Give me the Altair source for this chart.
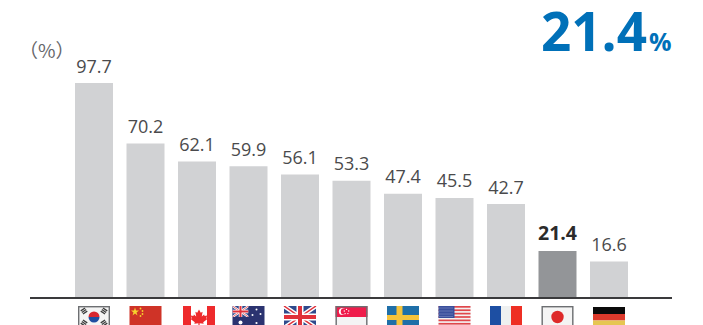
import base64
import altair as alt
import pandas as pd

countries = ["South Korea", "China", "Canada", "Australia", "United Kingdom", "Singapore",
             "Sweden", "United States", "France", "Japan", "Germany"]
values = [97.7, 70.2, 62.1, 59.9, 56.1, 53.3, 47.4, 45.5, 42.7, 21.4, 16.6]
highlighted = "Japan"
unit_label = "（%）"

FRAME = '<rect x="0.7" y="0.7" width="30.6" height="21" fill="none" stroke="#6d6f72" stroke-width="1.4"/>'


def trigram(cx, cy, angle):
    return (f'<g transform="rotate({angle} {cx} {cy}) translate({cx} {cy})" fill="#3a3a3a">'
            '<rect x="-2.6" y="-2.6" width="5.2" height="1.3"/>'
            '<rect x="-2.6" y="-0.65" width="5.2" height="1.3"/>'
            '<rect x="-2.6" y="1.3" width="5.2" height="1.3"/></g>')


# Small vector flags, 32 units wide; the window cuts them at 19 units high.
union_jack = ('<rect width="32" height="22" fill="#2f4a8c"/>'
              '<path d="M0 0L32 22M32 0L0 22" stroke="#fff" stroke-width="4.4"/>'
              '<path d="M0 0L32 22M32 0L0 22" stroke="#e0313a" stroke-width="1.5"/>'
              '<path d="M16 0V22M0 11H32" stroke="#fff" stroke-width="7"/>'
              '<path d="M16 0V22M0 11H32" stroke="#e0313a" stroke-width="4"/>')

us_stripes = "".join(
    f'<rect y="{i * 22 / 13:.2f}" width="32" height="{22 / 13:.2f}" fill="#e0474c"/>' for i in range(0, 13, 2)
)

flag_art = {
    "South Korea": '<rect width="32" height="22" fill="#f4f4f4"/>'
                   '<path d="M10.5 11a5.5 5.5 0 0 1 11 0z" fill="#d8262f"/>'
                   '<path d="M10.5 11a5.5 5.5 0 0 0 11 0z" fill="#1f4ea1"/>'
                   + trigram(6, 5, -34) + trigram(26, 5, 34) + trigram(6, 17, 34) + trigram(26, 17, -34) + FRAME,
    "China": '<rect width="32" height="22" fill="#cf3327"/>'
             '<path d="M5.5 1.5l1 3h3l-2.5 1.9 1 3-2.5-1.9-2.5 1.9 1-3-2.5-1.9h3z" fill="#f6d32d"/>'
             '<g fill="#f6d32d"><circle cx="11" cy="2.5" r="0.9"/><circle cx="13" cy="5" r="0.9"/>'
             '<circle cx="13" cy="8" r="0.9"/><circle cx="11" cy="10" r="0.9"/></g>',
    # The Canadian flag sits two units right of its bar.
    "Canada": '<g transform="translate(2 0)"><rect width="32" height="22" fill="#fff"/>'
              '<rect width="8" height="22" fill="#ee2a2c"/><rect x="24" width="8" height="22" fill="#ee2a2c"/>'
              '<path d="M16 3.5l1.8 3.2 1.8-.9-.8 4.6 2.3-2 .5 1.5 2.6-.4-.9 2.7 1.1.7-4.2 3.4.5 1.4-4.1-.5v3.2h-1.2v-3.2l-4.1.5.5-1.4-4.2-3.4 1.1-.7-.9-2.7 2.6.4.5-1.5 2.3 2-.8-4.6 1.8.9z" fill="#ee2a2c"/></g>',
    "Australia": '<rect width="32" height="22" fill="#2b3370"/>'
                 '<svg width="16" height="11" viewBox="0 0 32 22">' + union_jack + '</svg>'
                 '<g fill="#fff"><circle cx="8" cy="16.5" r="2"/><circle cx="24" cy="3.5" r="1"/>'
                 '<circle cx="28" cy="8" r="1"/><circle cx="20" cy="9" r="1"/><circle cx="24" cy="17" r="1.1"/></g>',
    "United Kingdom": union_jack,
    "Singapore": '<rect width="32" height="22" fill="#f4f4f4"/><rect width="32" height="11" fill="#ef1c4b"/>'
                 '<circle cx="7" cy="5.5" r="3.6" fill="#fff"/><circle cx="8.6" cy="5.5" r="3.3" fill="#ef1c4b"/>'
                 '<g fill="#fff"><circle cx="11" cy="3.4" r="0.7"/><circle cx="13.2" cy="5" r="0.7"/>'
                 '<circle cx="12.4" cy="7.6" r="0.7"/><circle cx="9.6" cy="7.6" r="0.7"/><circle cx="8.8" cy="5" r="0.7"/></g>'
                 + FRAME,
    "Sweden": '<rect width="32" height="22" fill="#1f6fa8"/>'
              '<rect x="9.5" width="6" height="22" fill="#f5c33b"/><rect y="9" width="32" height="5" fill="#f5c33b"/>',
    "United States": '<rect width="32" height="22" fill="#f4f1f1"/>' + us_stripes
                     + '<rect width="16" height="12" fill="#3a4f9c"/>'
                     '<path d="M1 2H15M1 5H15M1 8H15M1 10.5H15" stroke="#8a96c8" stroke-width="1" stroke-dasharray="1 1"/>',
    "France": '<rect width="32" height="22" fill="#eef0f0"/><rect width="11" height="22" fill="#1d4fa3"/>'
              '<rect x="21" width="11" height="22" fill="#ee2f24"/>',
    "Japan": '<rect width="32" height="22" fill="#f4f4f4"/><circle cx="16" cy="11" r="6.2" fill="#de2a2a"/>' + FRAME,
    "Germany": '<rect y="1" width="32" height="7" fill="#0b0b0b"/><rect y="8" width="32" height="6.5" fill="#dd3a2c"/>'
               '<rect y="14.5" width="32" height="7.5" fill="#e6c652"/>',
}


def flag_uri(name):
    svg = ('<svg xmlns="http://www.w3.org/2000/svg" width="36" height="19" viewBox="-2 0 36 19">'
           + flag_art[name] + '</svg>')
    return "data:image/svg+xml;base64," + base64.b64encode(svg.encode()).decode()


table = pd.DataFrame({
    "country": countries,
    "value": values,
    "flag": [flag_uri(c) for c in countries],
    "highlight": [c == highlighted for c in countries],
})

x_field = alt.X("country:N", sort=countries, axis=None,
                scale=alt.Scale(range=[68.25, 634.75], paddingInner=0, paddingOuter=0))
y_field = alt.Y("value:Q", axis=None, scale=alt.Scale(domain=[0, 100], range=[298, 78]))

base = alt.Chart(table)

bars = base.mark_bar(size=38).encode(
    x=x_field,
    y=y_field,
    color=alt.condition("datum.highlight", alt.value("#939598"), alt.value("#d1d2d4")),
)

labels = base.transform_filter("!datum.highlight").mark_text(
    font="Open Sans", fontSize=18, dy=-10.5, baseline="alphabetic", align="center", color="#4a4a4c"
).encode(x=x_field, y=y_field, text=alt.Text("value:Q", format=".1f"))

callout = base.transform_filter("datum.highlight")

highlight_label = callout.mark_text(
    font="Open Sans", fontSize=19.5, fontWeight="bold", dy=-11, baseline="alphabetic", align="center", color="#2b2b2b"
).encode(x=x_field, y=y_field, text=alt.Text("value:Q", format=".1f"))

baseline = alt.Chart(pd.DataFrame({"start": [0]})).mark_rule(color="#3a3a3c", strokeWidth=2).encode(
    x=alt.value(30), x2=alt.value(672), y=alt.value(298)
)

flags = base.mark_image(width=36, height=19, align="center", baseline="middle").encode(
    x=x_field,
    y=alt.value(315.5),
    url="flag:N",
)

big_value = callout.mark_text(
    font="Open Sans", fontSize=53, fontWeight="bold", color="#0070b8", align="right", baseline="alphabetic"
).encode(x=alt.value(647), y=alt.value(51), text=alt.Text("value:Q", format=".1f"))

big_unit = callout.mark_text(
    font="Open Sans", fontSize=25, fontWeight="bold", color="#0070b8", align="left", baseline="alphabetic"
).encode(x=alt.value(649), y=alt.value(51), text=alt.value("%"))

unit = alt.Chart(pd.DataFrame({"label": [unit_label]})).mark_text(
    font="Noto Sans CJK JP", fontSize=19, color="#66666a", align="left", baseline="alphabetic"
).encode(x=alt.value(19), y=alt.value(58), text="label:N")

chart = alt.layer(bars, labels, highlight_label, flags, baseline, big_value, big_unit, unit).properties(
    width=703, height=325, padding=0, autosize="none"
).configure_view(stroke=None)

chart.save("out.html", embed_options={"renderer": "svg", "actions": False})
